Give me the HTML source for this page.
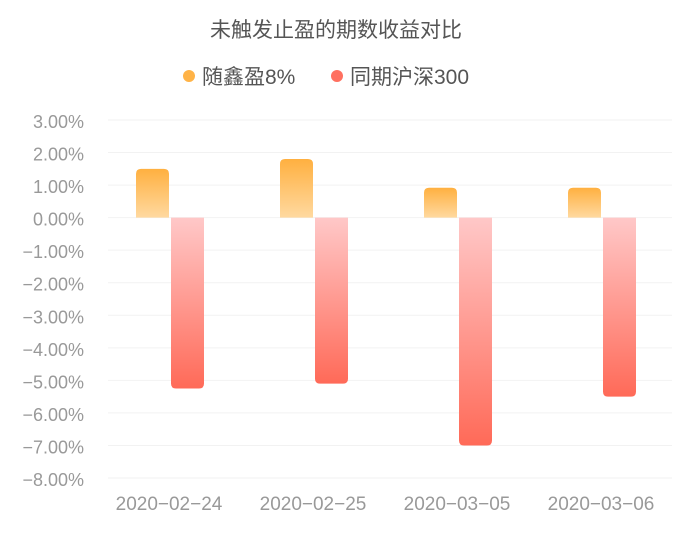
<!DOCTYPE html>
<html><head><meta charset="utf-8"><style>
html,body{margin:0;padding:0;background:#fff;}
svg{display:block;font-family:"Liberation Sans","Noto Sans CJK SC",sans-serif;}
</style></head><body>
<svg id="chart" width="676" height="541">
<defs>
<linearGradient id="gO" x1="0" y1="0" x2="0" y2="1"><stop offset="0" stop-color="#ffb040"/><stop offset="1" stop-color="#ffd9a0"/></linearGradient>
<linearGradient id="gR" x1="0" y1="0" x2="0" y2="1"><stop offset="0" stop-color="#ffc8c8"/><stop offset="1" stop-color="#ff6a58"/></linearGradient>
</defs>
<text x="336" y="37" text-anchor="middle" font-size="21" fill="#555">未触发止盈的期数收益对比</text>
<g><circle cx="189" cy="76" r="6" fill="#ffb347"/><text x="202" y="84" font-size="21" fill="#555">随鑫盈8%</text></g>
<g><circle cx="337" cy="76" r="6" fill="#ff7060"/><text x="350" y="84" font-size="21" fill="#555">同期沪深300</text></g>
<g id="grid"></g><g id="bars"></g><g id="axes"></g>
</svg>
<script>
const categories=["2020-02-24","2020-02-25","2020-03-05","2020-03-06"];
const suiValues=[1.5,1.8,0.92,0.92];
const hsValues=[-5.25,-5.1,-7.0,-5.5];
const yTicks=[3,2,1,0,-1,-2,-3,-4,-5,-6,-7,-8];
const ns="http://www.w3.org/2000/svg";
const yTop=120,yBot=478,yMax=3,yMin=-8;
const y=v=>yTop+(yMax-v)*(yBot-yTop)/(yMax-yMin);
const x0=98,gw=144,bw=33;
const grid=document.getElementById('grid'),bars=document.getElementById('bars'),axes=document.getElementById('axes');
function mk(t,a,p){const e=document.createElementNS(ns,t);for(const k in a)e.setAttribute(k,a[k]);p.appendChild(e);return e;}
yTicks.forEach(v=>{
 const l=mk('line',{x1:108,x2:672,y1:y(v),y2:y(v),stroke:'#f2f2f2','stroke-width':1},grid);
 
 
 const t=mk('text',{x:84,y:y(v)+8,'text-anchor':'end','font-size':18,fill:'#999'},axes);
 t.textContent=v.toFixed(2).replace('-','−')+'%';
 
 
});
function barPath(x,v,w){const r=5,yv=y(v),y0=y(0);
 if(v>=0)return `M${x},${y0}V${yv+r}Q${x},${yv} ${x+r},${yv}H${x+w-r}Q${x+w},${yv} ${x+w},${yv+r}V${y0}Z`;
 return `M${x},${y0}V${yv-r}Q${x},${yv} ${x+r},${yv}H${x+w-r}Q${x+w},${yv} ${x+w},${yv-r}V${y0}Z`;}
categories.forEach((c,i)=>{
 const cx=x0+gw*i+gw/2;
 const a=mk('path',{d:barPath(cx-bw-1,suiValues[i],bw),fill:'url(#gO)'},bars);
 
 
 const b=mk('path',{d:barPath(cx+1,hsValues[i],bw),fill:'url(#gR)'},bars);
 
 
 const t=mk('text',{x:cx-1,y:510,'text-anchor':'middle','font-size':19,fill:'#999'},axes);
 t.textContent=c.replace(/-/g,'−');
 
 
});
</script>
</body></html>
